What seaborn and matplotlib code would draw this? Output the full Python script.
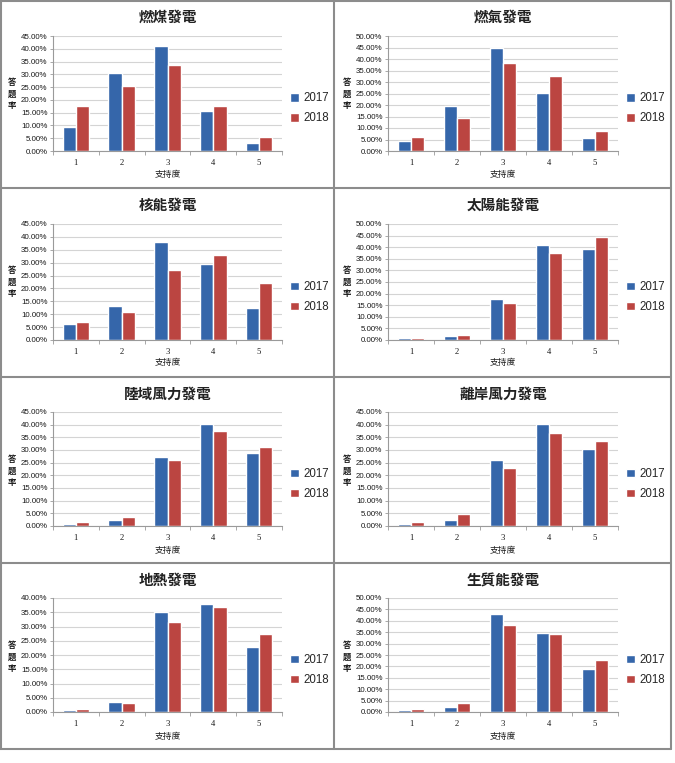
import matplotlib
matplotlib.use("Agg")
import matplotlib.pyplot as plt
import numpy as np
import pandas as pd
import seaborn as sns
from matplotlib.lines import Line2D
from matplotlib.ticker import FuncFormatter, MultipleLocator, FixedLocator

# ---------------- data ----------------
levels = ["1", "2", "3", "4", "5"]
years = ["2017", "2018"]
titles = ["燃煤發電", "燃氣發電", "核能發電", "太陽能發電",
          "陸域風力發電", "離岸風力發電", "地熱發電", "生質能發電"]

coal_2017 = [9.5, 30.5, 41.2, 15.5, 3.2]
coal_2018 = [17.7, 25.3, 33.5, 17.7, 5.6]
gas_2017 = [4.3, 19.7, 45.0, 25.2, 5.5]
gas_2018 = [6.1, 14.4, 38.2, 32.5, 8.5]
nuclear_2017 = [6.3, 13.2, 38.1, 29.6, 12.6]
nuclear_2018 = [6.9, 11.0, 27.1, 32.9, 22.1]
solar_2017 = [0.8, 1.7, 17.5, 40.8, 39.2]
solar_2018 = [0.7, 2.0, 16.0, 37.3, 44.2]
onshore_2017 = [0.9, 2.2, 27.2, 40.2, 28.8]
onshore_2018 = [1.5, 3.6, 26.1, 37.5, 31.0]
offshore_2017 = [0.6, 2.4, 25.9, 40.3, 30.5]
offshore_2018 = [1.7, 4.9, 22.9, 36.9, 33.5]
geo_2017 = [0.7, 3.5, 35.2, 38.0, 22.7]
geo_2018 = [1.1, 3.0, 31.5, 37.0, 27.4]
bio_2017 = [0.9, 2.4, 43.1, 34.6, 18.8]
bio_2018 = [1.4, 3.8, 38.1, 34.3, 22.7]

series = [(coal_2017, coal_2018), (gas_2017, gas_2018),
          (nuclear_2017, nuclear_2018), (solar_2017, solar_2018),
          (onshore_2017, onshore_2018), (offshore_2017, offshore_2018),
          (geo_2017, geo_2018), (bio_2017, bio_2018)]
y_max = [45, 50, 45, 50, 45, 45, 40, 50]

# ---------------- style ----------------
sns.set_theme(style="white")
plt.rcParams['font.family'] = ['Noto Sans CJK TC', 'DejaVu Sans']

BLUE = "#3566AA"
RED = "#BB4541"
palette = {"2017": BLUE, "2018": RED}

W, H = 675, 763
fig = plt.figure(figsize=(W / 100, H / 100), dpi=100)
fig.patch.set_facecolor("white")

def fx(px):
    return px / W

def fy(py):
    return 1 - py / H

row_tops = [0, 188, 377, 563]
row_plot = [(36, 151), (224, 340), (412, 526), (598, 712)]
col_x = [(53, 282), (388, 618)]
col_left = [0, 335]

for i, (title, (s17, s18)) in enumerate(zip(titles, series)):
    r, c = divmod(i, 2)
    x0, x1 = col_x[c]
    yt, yb = row_plot[r]
    ax = fig.add_axes([fx(x0), fy(yb), fx(x1 - x0), (yb - yt) / H])

    df = pd.DataFrame({
        "支持度": levels * 2,
        "年": [years[0]] * 5 + [years[1]] * 5,
        "答題率": list(s17) + list(s18),
    })
    sns.barplot(data=df, x="支持度", y="答題率", hue="年", order=levels,
                hue_order=years, palette=palette, width=0.58, saturation=1,
                ax=ax, errorbar=None)

    ax.set_xlim(-0.5, 4.5)
    ax.set_ylim(0, y_max[i])
    ax.yaxis.set_major_locator(MultipleLocator(5))
    ax.yaxis.set_major_formatter(FuncFormatter(lambda v, p: f"{v:.2f}%"))
    ax.set_axisbelow(True)
    ax.grid(axis="y", color="#d4d4d4", lw=0.8)
    ax.grid(axis="x", visible=False)
    for sp in ["top", "right"]:
        ax.spines[sp].set_visible(False)
    for sp in ["left", "bottom"]:
        ax.spines[sp].set_color("#9a9a9a")
        ax.spines[sp].set_linewidth(0.8)

    ax.tick_params(axis="y", which="major", left=True, length=2.5, width=0.6,
                   color="#9a9a9a", labelsize=5.7, pad=1.5, labelcolor="#1a1a1a")
    for lab in ax.get_yticklabels():
        lab.set_fontfamily(["Liberation Sans", "DejaVu Sans"])
    ax.xaxis.set_minor_locator(FixedLocator(np.arange(-0.5, 5.0, 1.0)))
    ax.tick_params(axis="x", which="major", length=0, labelsize=6.2, pad=6,
                   labelcolor="#1a1a1a")
    ax.tick_params(axis="x", which="minor", bottom=True, length=3, width=0.6,
                   color="#9a9a9a")
    for lab in ax.get_xticklabels():
        lab.set_fontfamily(["Liberation Serif", "DejaVu Serif"])

    ax.set_xlabel("")
    ax.set_ylabel("")

    # x label
    fig.text(fx((x0 + x1) / 2), fy(row_tops[r] + 174), "支持度",
             ha="center", va="center", fontsize=6.3, color="#1a1a1a")
    # y label, stacked characters
    fig.text(fx(col_left[c] + 12), fy(row_tops[r] + 94), "答\n題\n率",
             ha="center", va="center", fontsize=6, fontweight="bold",
             linespacing=1.3, color="#1a1a1a")
    # title
    fig.text(fx((x0 + x1) / 2), fy(row_tops[r] + 17), title,
             ha="center", va="center", fontsize=10.5, fontweight="bold",
             color="#222222")

    sns.move_legend(ax, "center left", bbox_to_anchor=(1.035, 0.37),
                    frameon=False, title=None, fontsize=8.3,
                    handlelength=0.75, handleheight=0.75, handletextpad=0.4,
                    labelspacing=0.7, borderaxespad=0, borderpad=0)
    for t in ax.get_legend().get_texts():
        t.set_fontfamily(["Liberation Sans", "DejaVu Sans"])

# ---------------- box borders ----------------
bc = "#8c8c8c"
blw = 1.5
def hline(y, xa, xb):
    fig.add_artist(Line2D([fx(xa), fx(xb)], [fy(y), fy(y)], color=bc, lw=blw))

def vline(x, ya, yb):
    fig.add_artist(Line2D([fx(x), fx(x)], [fy(ya), fy(yb)], color=bc, lw=blw))

for y in [1, 188, 377, 563, 749]:
    hline(y, 0, 671)
vline(1, 1, 749)
vline(334, 1, 749)
vline(671, 1, 749)

fig.savefig("out.png", dpi=100, facecolor="white")
